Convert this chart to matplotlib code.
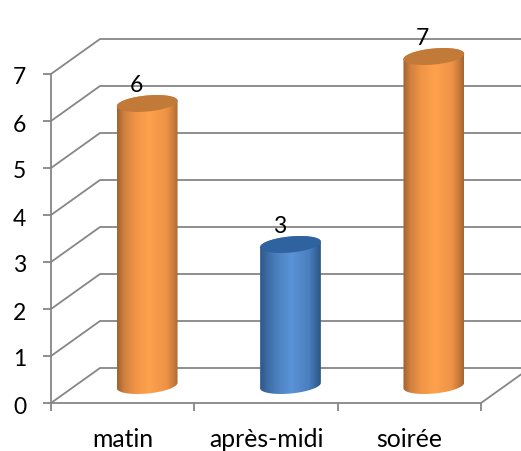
import numpy as np
from matplotlib import pyplot as plt
from matplotlib.colors import LinearSegmentedColormap
from matplotlib.patches import Polygon
from matplotlib.transforms import ScaledTranslation

# Valeurs du graphique
categories = ["matin", "après-midi", "soirée"]
valeurs = [6, 3, 7]
y_ticks = [0, 1, 2, 3, 4, 5, 6, 7]

# Couleurs des cylindres (position, couleur) et du dessus
degrade_orange = [(0, "#A0622E"), (0.12, "#D08040"), (0.3, "#F09546"), (0.52, "#FFA14D"),
                  (0.8, "#EE9346"), (0.92, "#C87B3A"), (1, "#A5642F")]
degrade_bleu = [(0, "#2E5889"), (0.12, "#3C6CA4"), (0.3, "#4D82C2"), (0.52, "#5A93D8"),
                (0.8, "#4B7FBE"), (0.92, "#38669C"), (1, "#2C5484")]
styles = [(degrade_orange, "#C27A38"), (degrade_bleu, "#2F639F"), (degrade_orange, "#C27A38")]

gris = "#868686"
plt.rcParams["font.family"] = ["Lato", "DejaVu Sans"]

W, H = 521, 451
fig = plt.figure(figsize=(W / 100, H / 100), dpi=100)
# Plan avant du repere, en pixels
ax = fig.add_axes([51 / W, (H - 403) / H, 430 / W, 329 / H])
ax.set_xlim(0, len(categories))
ax.set_ylim(0, 7)

# Pixels par unite et profondeur de la perspective
ux = 430 / len(categories)
uy = 329 / 7
dx = 49 / ux
dy = 35 / uy

# Murs et sol
for n in y_ticks:
    if n == 0:
        ax.plot([0, dx, 3 + dx, 3], [0, dy, dy, 0], color=gris, lw=1.3, clip_on=False, zorder=1)
    else:
        ax.plot([0, dx, 3 + dx], [n, n + dy, n + dy], color=gris, lw=1.3, clip_on=False, zorder=1)

for s in ["top", "right"]:
    ax.spines[s].set_visible(False)
for s in ["left", "bottom"]:
    ax.spines[s].set_color(gris)
    ax.spines[s].set_linewidth(1.3)
    ax.spines[s].set_zorder(2)
ax.patch.set_visible(False)

ax.set_yticks(y_ticks)
ax.set_xticks(range(len(categories) + 1))
ax.set_xticklabels([])
ax.set_xticks(np.arange(len(categories)) + 0.5, categories, minor=True)
ax.tick_params(axis="y", length=6, width=1.3, color=gris, pad=12, labelsize=16.5)
ax.tick_params(axis="x", which="major", length=6, width=1.3, color=gris)
ax.tick_params(axis="x", which="minor", length=0, pad=18, labelsize=17.8)

# Descend un peu les chiffres de l'axe y
decalage = ScaledTranslation(0, -2 / 100, fig.dpi_scale_trans)
for label in ax.get_yticklabels():
    label.set_transform(label.get_transform() + decalage)

# Cylindres
a, b = 30.5, 8
theta = np.radians(5.5)


def ellipse(cx, cy, t):
    x = a * np.cos(t) * np.cos(theta) - b * np.sin(t) * np.sin(theta)
    y = a * np.cos(t) * np.sin(theta) + b * np.sin(t) * np.cos(theta)
    return np.column_stack([cx + x / ux, cy + y / uy])


for i, v in enumerate(valeurs):
    couleurs, dessus = styles[i]
    cx = i + 0.5 + dx / 2
    base = dy / 2
    sommet = base + v
    cote = np.vstack([
        ellipse(cx, base, np.linspace(np.pi, 2 * np.pi, 60)),
        ellipse(cx, sommet, np.linspace(0, np.pi, 60)),
    ])
    forme = Polygon(cote, closed=True, transform=ax.transData, facecolor="none", edgecolor="none")
    ax.add_patch(forme)
    cmap = LinearSegmentedColormap.from_list("cyl", couleurs)
    im = ax.imshow(np.linspace(0, 1, 256).reshape(1, -1), cmap=cmap, aspect="auto", zorder=3,
                   extent=[cx - a / ux, cx + a / ux, base - 10 / uy, sommet + 10 / uy])
    im.set_clip_path(forme)
    im.set_clip_box(fig.bbox)
    ax.add_patch(Polygon(ellipse(cx, sommet, np.linspace(0, 2 * np.pi, 120)), closed=True,
                         facecolor=dessus, edgecolor="none", zorder=4, clip_on=False))
    # Etiquette de valeur au dessus du cylindre
    ax.annotate(str(v), (cx, sommet), xytext=(-8, 13), textcoords="offset points",
                ha="center", va="center", fontsize=16.5, color="black", zorder=5, annotation_clip=False)

ax.set_xlim(0, len(categories))
ax.set_ylim(0, 7)

fig.savefig("out.png", dpi=100, facecolor="white")
